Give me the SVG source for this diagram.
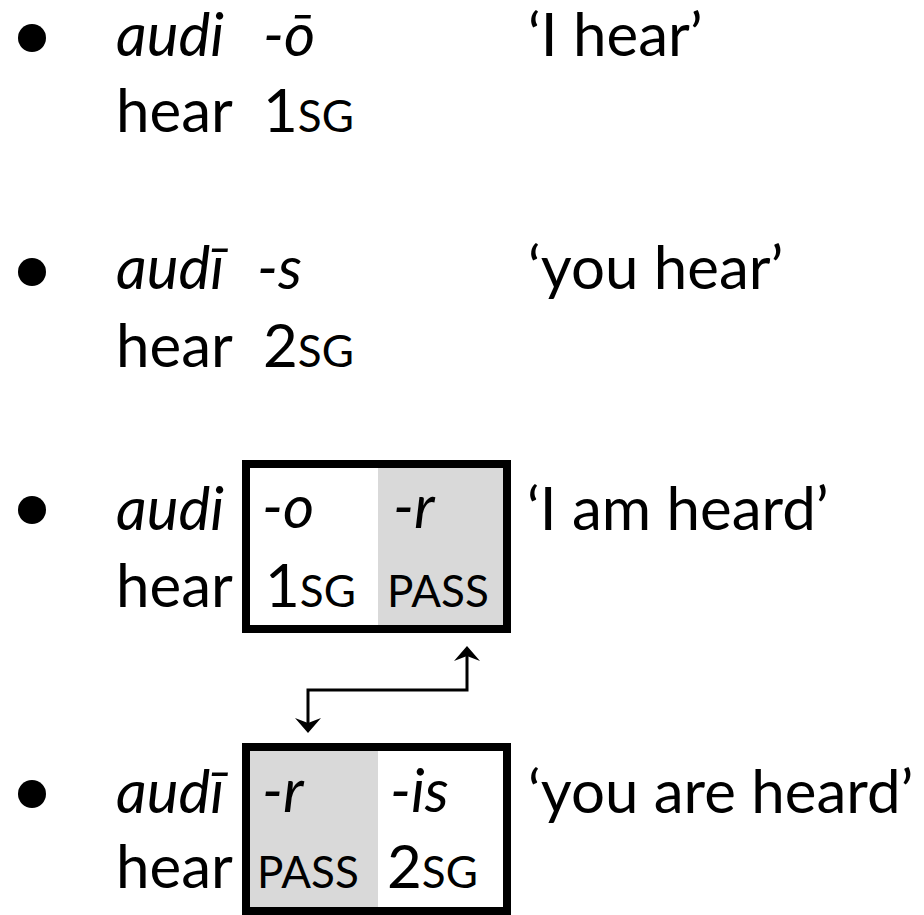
<svg xmlns="http://www.w3.org/2000/svg" width="924" height="915" viewBox="0 0 924 915">
<style>
text{font-family:Lato,"Liberation Sans",sans-serif;font-size:60px;fill:#000}
.i{font-style:italic}
.sc{font-size:44px}
.box{fill:none;stroke:#000;stroke-width:8}
.shade{fill:#d9d9d9}
.conn{fill:none;stroke:#000;stroke-width:3}
</style>
<defs>
<marker id="ah" markerUnits="userSpaceOnUse" viewBox="-10 -15 20 30" markerWidth="20" markerHeight="30" refX="0" refY="0" orient="auto-start-reverse">
<path d="M8,0 L-7,-13 L-2,0 L-7,13 Z" fill="#000"/>
</marker>
</defs>
<rect width="924" height="915" fill="#fff"/>
<g id="ex1">
<circle cx="32" cy="38" r="14"/>
<text x="116" y="56" class="i">audi</text>
<text x="263" y="56" class="i">-ō</text>
<text x="528" y="56">‘I hear’</text>
<text x="116" y="132">hear</text>
<text x="263" y="132">1<tspan class="sc">SG</tspan></text>
</g>
<g id="ex2">
<circle cx="32" cy="272" r="14"/>
<text x="116" y="289" class="i">audī</text>
<text x="257" y="289" class="i">-s</text>
<text x="528" y="289">‘you hear’</text>
<text x="116" y="367">hear</text>
<text x="263" y="367">2<tspan class="sc">SG</tspan></text>
</g>
<g id="ex3">
<circle cx="32" cy="510" r="14"/>
<text x="116" y="530" class="i">audi</text>
<rect x="378" y="464" width="129" height="165" class="shade"/>
<rect x="246" y="464" width="261" height="165" class="box"/>
<text x="262" y="528" class="i">-o</text>
<text x="393" y="528" class="i">-r</text>
<text x="265" y="607">1<tspan class="sc">SG</tspan></text>
<text x="387" y="607" class="sc">PASS</text>
<text x="116" y="607">hear</text>
<text x="527" y="530">‘I am heard’</text>
</g>
<g id="ex4">
<circle cx="32" cy="794" r="14"/>
<text x="116" y="813" class="i">audī</text>
<rect x="246" y="747" width="132" height="164" class="shade"/>
<rect x="246" y="747" width="261" height="164" class="box"/>
<text x="262" y="812" class="i">-r</text>
<text x="390" y="812" class="i">-is</text>
<text x="257" y="888" class="sc">PASS</text>
<text x="387" y="888">2<tspan class="sc">SG</tspan></text>
<text x="116" y="888">hear</text>
<text x="528" y="813">‘you are heard’</text>
</g>
<g id="connectors">
<path class="conn" d="M308,725 L308,690 L467,690 L467,654" marker-start="url(#ah)" marker-end="url(#ah)"/>
</g>
</svg>
